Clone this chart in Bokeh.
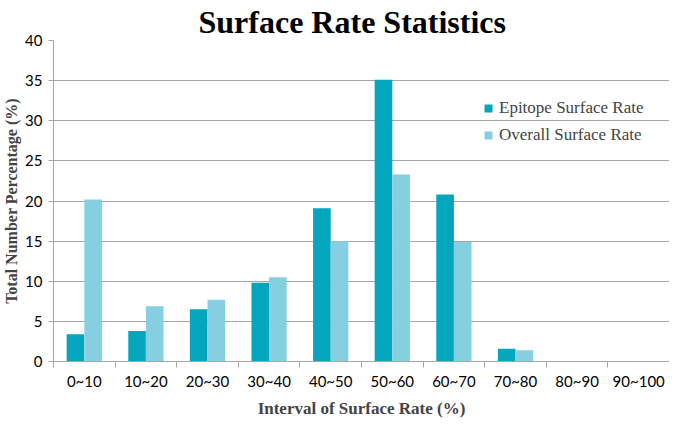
from bokeh.plotting import figure
from bokeh.models import ColumnDataSource, FixedTicker, Range1d, Legend, LegendItem
from bokeh.embed import file_html
from bokeh.resources import INLINE

categories = ["0~10", "10~20", "20~30", "30~40", "40~50",
              "50~60", "60~70", "70~80", "80~90", "90~100"]
epitope_rate = [3.4, 3.8, 6.5, 9.8, 19.1, 35.1, 20.8, 1.6, 0, 0]
overall_rate = [20.2, 6.9, 7.7, 10.5, 15.0, 23.3, 14.9, 1.4, 0, 0]
y_ticks = [0, 5, 10, 15, 20, 25, 30, 35, 40]

EPI_COLOR = "#03A6BD"
ALL_COLOR = "#86CFE0"
GRID = "#A6A6A6"
BAR_W = 0.286

idx = list(range(len(categories)))
src = ColumnDataSource(dict(
    x_epi=[i - BAR_W / 2 for i in idx],
    x_all=[i + BAR_W / 2 for i in idx],
    epi=epitope_rate,
    all=overall_rate,
))

p = figure(width=669, height=420, output_backend="svg", toolbar_location=None,
           x_range=Range1d(-0.5, len(categories) - 0.5), y_range=Range1d(0, 40),
           title="Surface Rate Statistics", min_border_right=0, min_border_top=0,
           min_border_bottom=0)

r1 = p.vbar(x="x_epi", top="epi", width=BAR_W, source=src,
            fill_color=EPI_COLOR, line_color=None)
r2 = p.vbar(x="x_all", top="all", width=BAR_W, source=src,
            fill_color=ALL_COLOR, line_color=None)

p.outline_line_color = None
p.background_fill_color = "white"
p.border_fill_color = "white"

p.title.text_font = "Liberation Serif"
p.title.text_font_style = "bold"
p.title.text_font_size = "32px"
p.title.align = "left"
p.title.text_color = "black"
p.title.standoff = 2
p.title.offset = 145

# x axis
xa = p.xaxis[0]
xa.ticker = FixedTicker(ticks=idx, minor_ticks=[i - 0.5 for i in idx] + [len(idx) - 0.5])
xa.major_label_overrides = {i: c for i, c in zip(idx, categories)}
xa.major_tick_line_color = None
xa.minor_tick_in = 0
xa.minor_tick_out = 6
xa.minor_tick_line_color = GRID
xa.axis_line_color = GRID
xa.major_label_text_font = "Lato"
xa.major_label_text_font_size = "15px"
xa.major_label_text_color = "black"
xa.major_label_standoff = 4
xa.axis_label = "Interval of Surface Rate (%)"
xa.axis_label_text_font = "Liberation Serif"
xa.axis_label_text_font_style = "bold"
xa.axis_label_text_font_size = "17px"
xa.axis_label_standoff = 6

# y axis
ya = p.yaxis[0]
ya.ticker = FixedTicker(ticks=y_ticks)
ya.major_tick_in = 0
ya.major_tick_out = 5
ya.major_tick_line_color = GRID
ya.minor_tick_line_color = None
ya.axis_line_color = GRID
ya.major_label_text_font = "Lato"
ya.major_label_text_font_size = "15px"
ya.major_label_text_color = "black"
ya.major_label_standoff = 6
ya.axis_label = "Total Number Percentage (%)"
ya.axis_label_text_font = "Liberation Serif"
ya.axis_label_text_font_style = "bold"
ya.axis_label_text_font_size = "16px"
ya.axis_label_standoff = 2

p.xgrid.grid_line_color = None
p.ygrid.ticker = FixedTicker(ticks=y_ticks)
p.ygrid.grid_line_color = GRID

legend = Legend(items=[LegendItem(label="Epitope Surface Rate", renderers=[r1]),
                       LegendItem(label="Overall Surface Rate", renderers=[r2])],
                location=(430, 216))
legend.background_fill_alpha = 0
legend.border_line_color = None
legend.label_text_font = "Liberation Serif"
legend.label_text_font_size = "17px"
legend.glyph_width = 10
legend.glyph_height = 10
legend.label_standoff = 6
legend.spacing = 7
legend.label_height = 19
p.add_layout(legend)

open("out.html", "w").write(file_html(p, INLINE))
